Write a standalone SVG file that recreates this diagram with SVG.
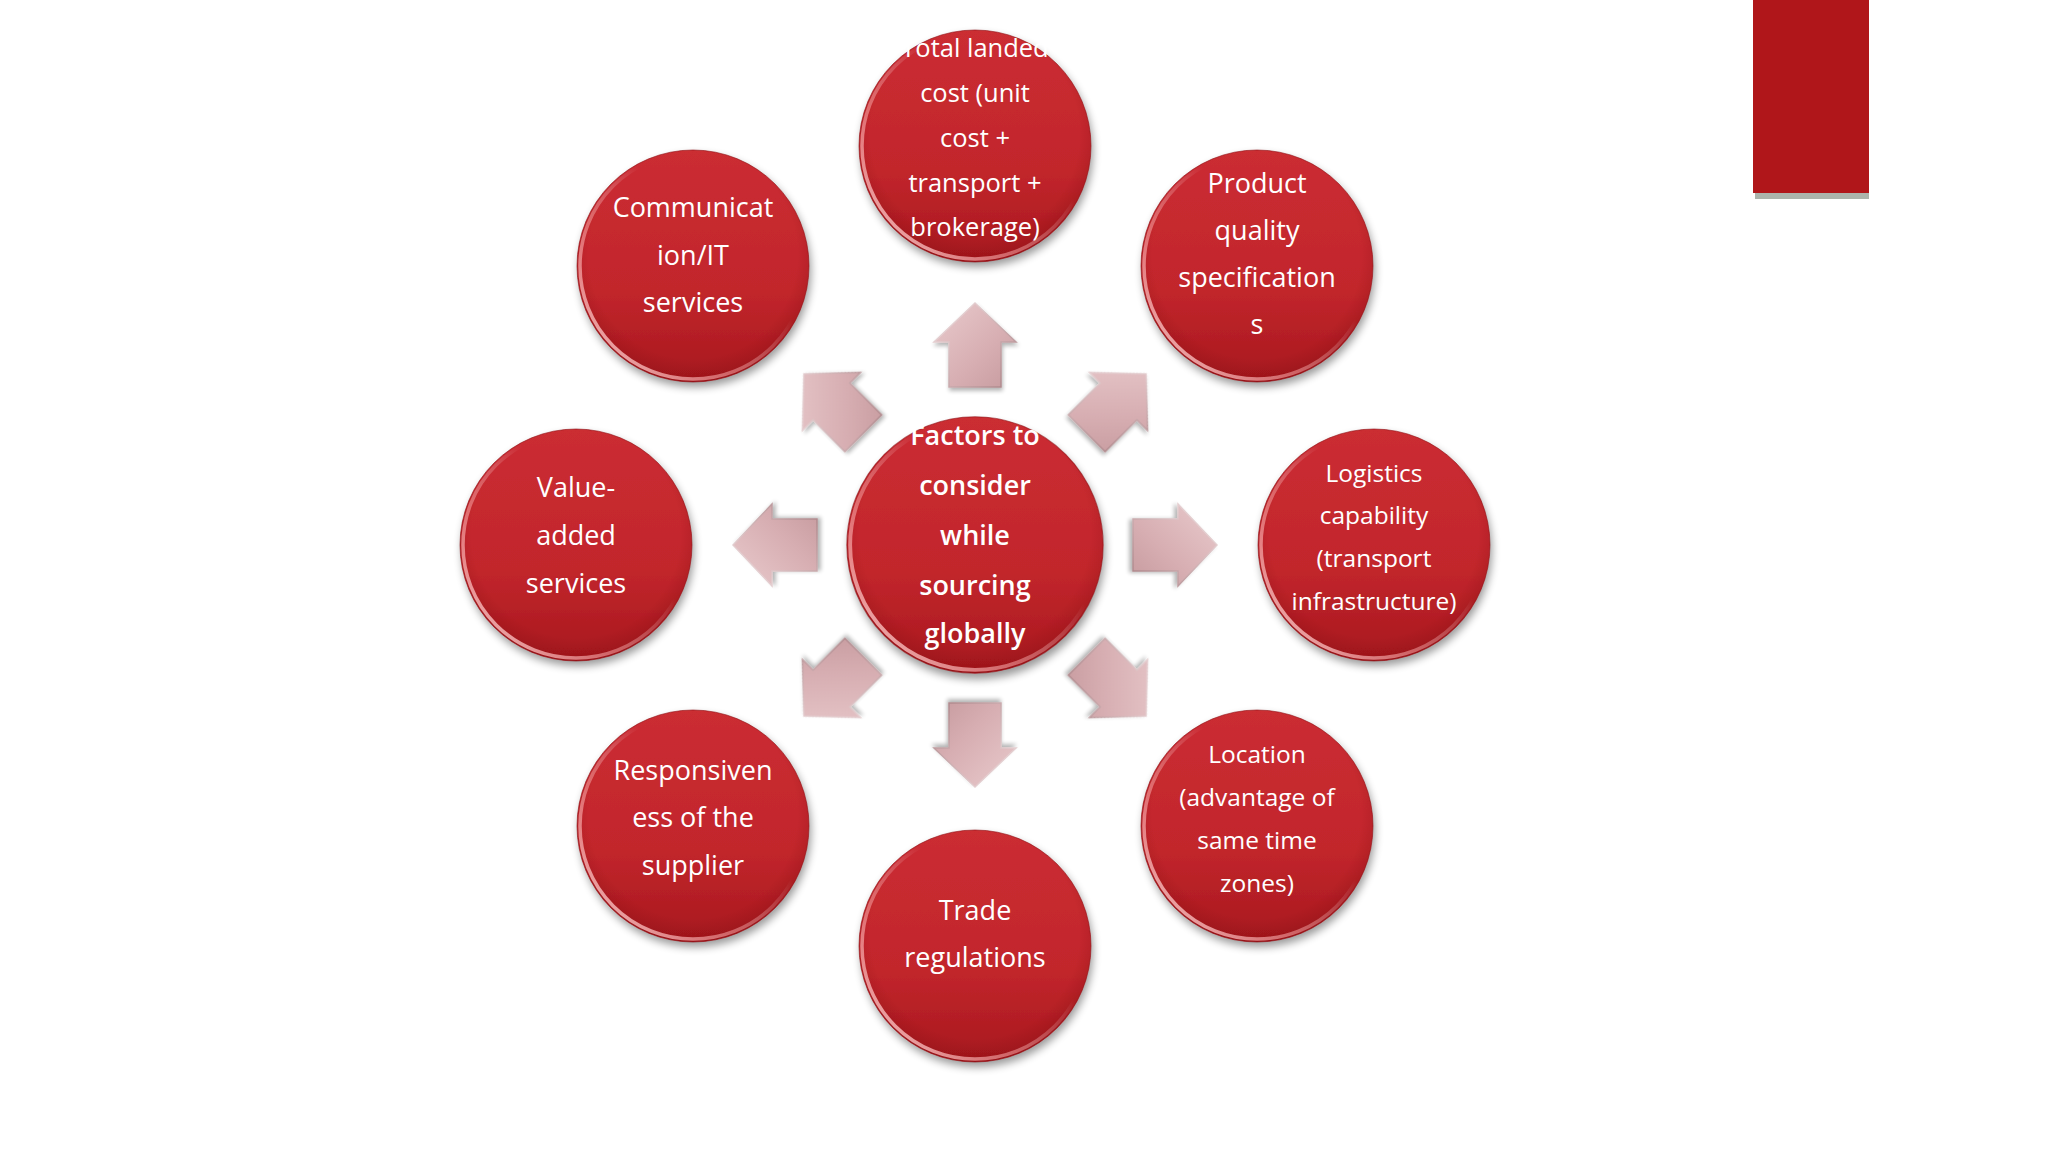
<svg xmlns="http://www.w3.org/2000/svg" xmlns:xlink="http://www.w3.org/1999/xlink" width="2048" height="1152" viewBox="0 0 2048 1152">
<style>
.t{font-family:"Open Sans","Noto Sans","Liberation Sans",sans-serif;fill:#ffffff;text-anchor:middle}
.s28{font-size:27px}
.s26{font-size:25.5px}
.s25{font-size:24.5px}
.c{font-size:27px;font-weight:600}
.arrow{fill:url(#arrowGrad);stroke:url(#arrowEdge);stroke-width:1.5;filter:url(#arrowShadow)}
</style>
<defs>
<linearGradient id="ballFill" x1="0" y1="0" x2="0" y2="1">
<stop offset="0" stop-color="#cb2d32"/>
<stop offset="0.6" stop-color="#c2262c"/>
<stop offset="1" stop-color="#a8181e"/>
</linearGradient>
<radialGradient id="ballEdge" cx="0.5" cy="0.45" r="0.55">
<stop offset="0.82" stop-color="#7a0a0e" stop-opacity="0"/>
<stop offset="1" stop-color="#7a0a0e" stop-opacity="0.3"/>
</radialGradient>
<linearGradient id="rim" x1="0" y1="1" x2="1" y2="0">
<stop offset="0" stop-color="#ffd6d6" stop-opacity="0.95"/>
<stop offset="0.35" stop-color="#ffb0b0" stop-opacity="0.5"/>
<stop offset="0.6" stop-color="#ffffff" stop-opacity="0"/>
</linearGradient>
<linearGradient id="arrowGrad" x1="0" y1="0" x2="1" y2="1">
<stop offset="0" stop-color="#e9cbcd"/>
<stop offset="0.6" stop-color="#d7aeb2"/>
<stop offset="1" stop-color="#c69a9e"/>
</linearGradient>
<linearGradient id="arrowEdge" x1="0" y1="0" x2="1" y2="1">
<stop offset="0" stop-color="#f6e6e7"/>
<stop offset="1" stop-color="#a88084"/>
</linearGradient>
<filter id="ballShadow" x="-20%" y="-20%" width="140%" height="145%">
<feGaussianBlur in="SourceAlpha" stdDeviation="4"/>
<feOffset dx="2" dy="5" result="b"/>
<feComponentTransfer><feFuncA type="linear" slope="0.4"/></feComponentTransfer>
<feMerge><feMergeNode/><feMergeNode in="SourceGraphic"/></feMerge>
</filter>
<filter id="arrowShadow" x="-20%" y="-20%" width="140%" height="140%">
<feGaussianBlur in="SourceAlpha" stdDeviation="2"/>
<feOffset dx="1" dy="3"/>
<feComponentTransfer><feFuncA type="linear" slope="0.3"/></feComponentTransfer>
<feMerge><feMergeNode/><feMergeNode in="SourceGraphic"/></feMerge>
</filter>
<g id="ball">
<circle r="116" fill="url(#ballFill)" filter="url(#ballShadow)"/>
<circle r="116" fill="url(#ballEdge)"/>
<circle r="113" fill="none" stroke="url(#rim)" stroke-width="3.5"/>
<circle r="116" fill="none" stroke="#8e1015" stroke-width="1" stroke-opacity="0.6"/>
</g>
<polygon id="arr" points="0,-242 41,-203 26,-203 26,-158 -26,-158 -26,-203 -41,-203"/>
</defs>

<rect width="2048" height="1152" fill="#ffffff"/>

<g id="side-bar">
<rect x="1755" y="192" width="114" height="7" fill="#9ea79e" opacity="0.85"/>
<rect x="1753" y="0" width="116" height="193" fill="#b0161a"/>
</g>

<g id="connectors">
<g transform="translate(975,545)">
<use href="#arr" class="arrow"/>
<use href="#arr" class="arrow" transform="rotate(45)"/>
<use href="#arr" class="arrow" transform="rotate(90)"/>
<use href="#arr" class="arrow" transform="rotate(135)"/>
<use href="#arr" class="arrow" transform="rotate(180)"/>
<use href="#arr" class="arrow" transform="rotate(225)"/>
<use href="#arr" class="arrow" transform="rotate(270)"/>
<use href="#arr" class="arrow" transform="rotate(315)"/>
</g>
</g>

<g id="center">
<use href="#ball" transform="translate(975,545) scale(1.105)"/>
<text class="t c" x="975" y="445">Factors to</text>
<text class="t c" x="975" y="495">consider</text>
<text class="t c" x="975" y="545">while</text>
<text class="t c" x="975" y="595">sourcing</text>
<text class="t c" x="975" y="643">globally</text>
</g>

<g id="n-top">
<use href="#ball" x="975" y="146"/>
<text class="t s26" x="975" y="57">Total landed</text>
<text class="t s26" x="975" y="102">cost (unit</text>
<text class="t s26" x="975" y="147">cost +</text>
<text class="t s26" x="975" y="192">transport +</text>
<text class="t s26" x="975" y="236">brokerage)</text>
</g>

<g id="n-top-right">
<use href="#ball" x="1257" y="266"/>
<text class="t s28" x="1257" y="193">Product</text>
<text class="t s28" x="1257" y="240">quality</text>
<text class="t s28" x="1257" y="287">specification</text>
<text class="t s28" x="1257" y="334">s</text>
</g>

<g id="n-right">
<use href="#ball" x="1374" y="545"/>
<text class="t s25" x="1374" y="482">Logistics</text>
<text class="t s25" x="1374" y="524">capability</text>
<text class="t s25" x="1374" y="567">(transport</text>
<text class="t s25" x="1374" y="610">infrastructure)</text>
</g>

<g id="n-bottom-right">
<use href="#ball" x="1257" y="826"/>
<text class="t s25" x="1257" y="763">Location</text>
<text class="t s25" x="1257" y="806">(advantage of</text>
<text class="t s25" x="1257" y="849">same time</text>
<text class="t s25" x="1257" y="892">zones)</text>
</g>

<g id="n-bottom">
<use href="#ball" x="975" y="946"/>
<text class="t s28" x="975" y="920">Trade</text>
<text class="t s28" x="975" y="967">regulations</text>
</g>

<g id="n-bottom-left">
<use href="#ball" x="693" y="826"/>
<text class="t s28" x="693" y="780">Responsiven</text>
<text class="t s28" x="693" y="827">ess of the</text>
<text class="t s28" x="693" y="875">supplier</text>
</g>

<g id="n-left">
<use href="#ball" x="576" y="545"/>
<text class="t s28" x="576" y="497">Value-</text>
<text class="t s28" x="576" y="545">added</text>
<text class="t s28" x="576" y="593">services</text>
</g>

<g id="n-top-left">
<use href="#ball" x="693" y="266"/>
<text class="t s28" x="693" y="217">Communicat</text>
<text class="t s28" x="693" y="265">ion/IT</text>
<text class="t s28" x="693" y="312">services</text>
</g>
</svg>
